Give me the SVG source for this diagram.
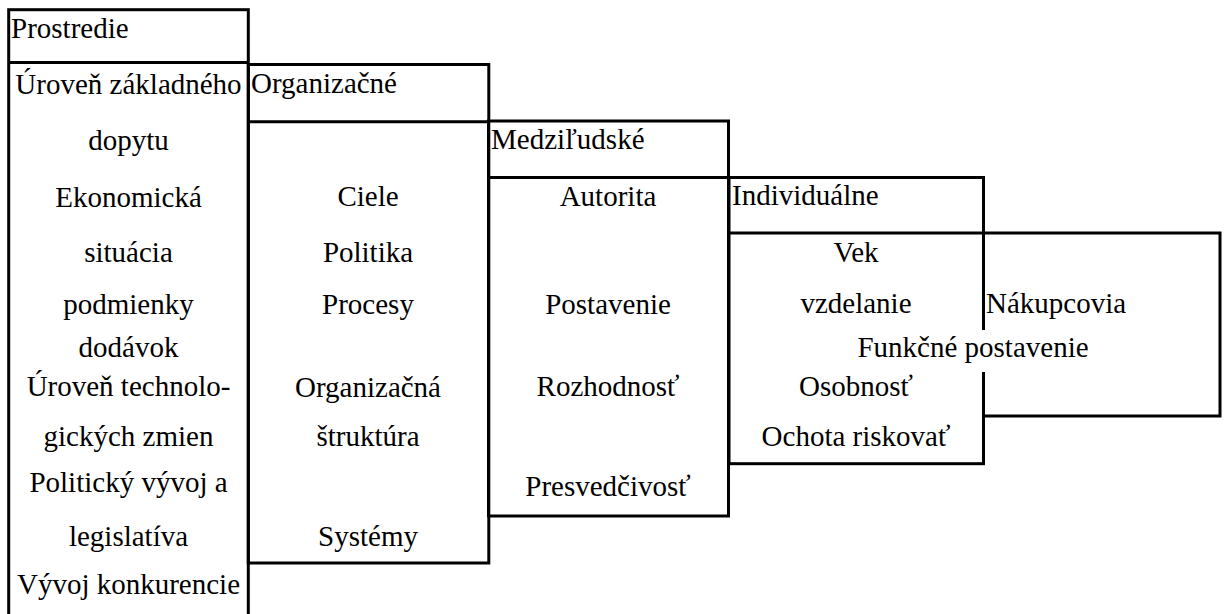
<svg xmlns="http://www.w3.org/2000/svg" width="1225" height="614" viewBox="0 0 1225 614" font-family="Liberation Serif, DejaVu Serif, serif" font-size="29">
<style>
.box{fill:none;stroke:#000;stroke-width:3}
.sep{stroke:#000;stroke-width:3}
text{fill:#000}
.c{text-anchor:middle}
</style>
<rect x="0" y="0" width="1225" height="614" fill="#fff"/>
<g id="connectors"></g>
<g id="prostredie">
<rect class="box" x="8.7" y="9.7" width="239.6" height="620"/>
<line class="sep" x1="8.7" y1="62.5" x2="248.3" y2="62.5"/>
<text x="11" y="38">Prostredie</text>
<text class="c" x="128.5" y="93.5">Úroveň základného</text>
<text class="c" x="128.5" y="150">dopytu</text>
<text class="c" x="128.5" y="206.5">Ekonomická</text>
<text class="c" x="128.5" y="262">situácia</text>
<text class="c" x="128.5" y="314">podmienky</text>
<text class="c" x="128.5" y="357">dodávok</text>
<text class="c" x="128.5" y="396">Úroveň technolo-</text>
<text class="c" x="128.5" y="445.5">gických zmien</text>
<text class="c" x="128.5" y="492">Politický vývoj a</text>
<text class="c" x="128.5" y="545.7">legislatíva</text>
<text class="c" x="128.5" y="594">Vývoj konkurencie</text>
</g>
<g id="organizacne">
<rect class="box" x="248.3" y="64.5" width="240.5" height="498.5"/>
<line class="sep" x1="248.3" y1="121.7" x2="488.8" y2="121.7"/>
<text x="251" y="93.3">Organizačné</text>
<text class="c" x="368" y="206">Ciele</text>
<text class="c" x="368" y="262">Politika</text>
<text class="c" x="368" y="313.5">Procesy</text>
<text class="c" x="368" y="396.5">Organizačná</text>
<text class="c" x="368" y="445.5">štruktúra</text>
<text class="c" x="368" y="545.7">Systémy</text>
</g>
<g id="medziludske">
<rect class="box" x="488.5" y="121" width="240" height="395"/>
<line class="sep" x1="488.5" y1="177.5" x2="728.5" y2="177.5"/>
<text x="491" y="149.3">Medziľudské</text>
<text class="c" x="608" y="206">Autorita</text>
<text class="c" x="608" y="313.5">Postavenie</text>
<text class="c" x="608" y="396">Rozhodnosť</text>
<text class="c" x="608" y="496">Presvedčivosť</text>
</g>
<g id="individualne">
<rect class="box" x="729" y="177.5" width="254.5" height="286.2"/>
<line class="sep" x1="729" y1="233" x2="983.5" y2="233"/>
<text x="732" y="205">Individuálne</text>
<text class="c" x="856" y="262">Vek</text>
<text class="c" x="856" y="312.5">vzdelanie</text>
<text class="c" x="856" y="396">Osobnosť</text>
<text class="c" x="856" y="446">Ochota riskovať</text>
</g>
<g id="nakupcovia">
<rect class="box" x="983.5" y="233" width="236.5" height="183"/>
<text x="986" y="312.5">Nákupcovia</text>
</g>
<g id="funkcne-postavenie">
<rect x="855" y="330" width="237" height="42" fill="#fff"/>
<text class="c" x="973" y="357">Funkčné postavenie</text>
</g>
</svg>
